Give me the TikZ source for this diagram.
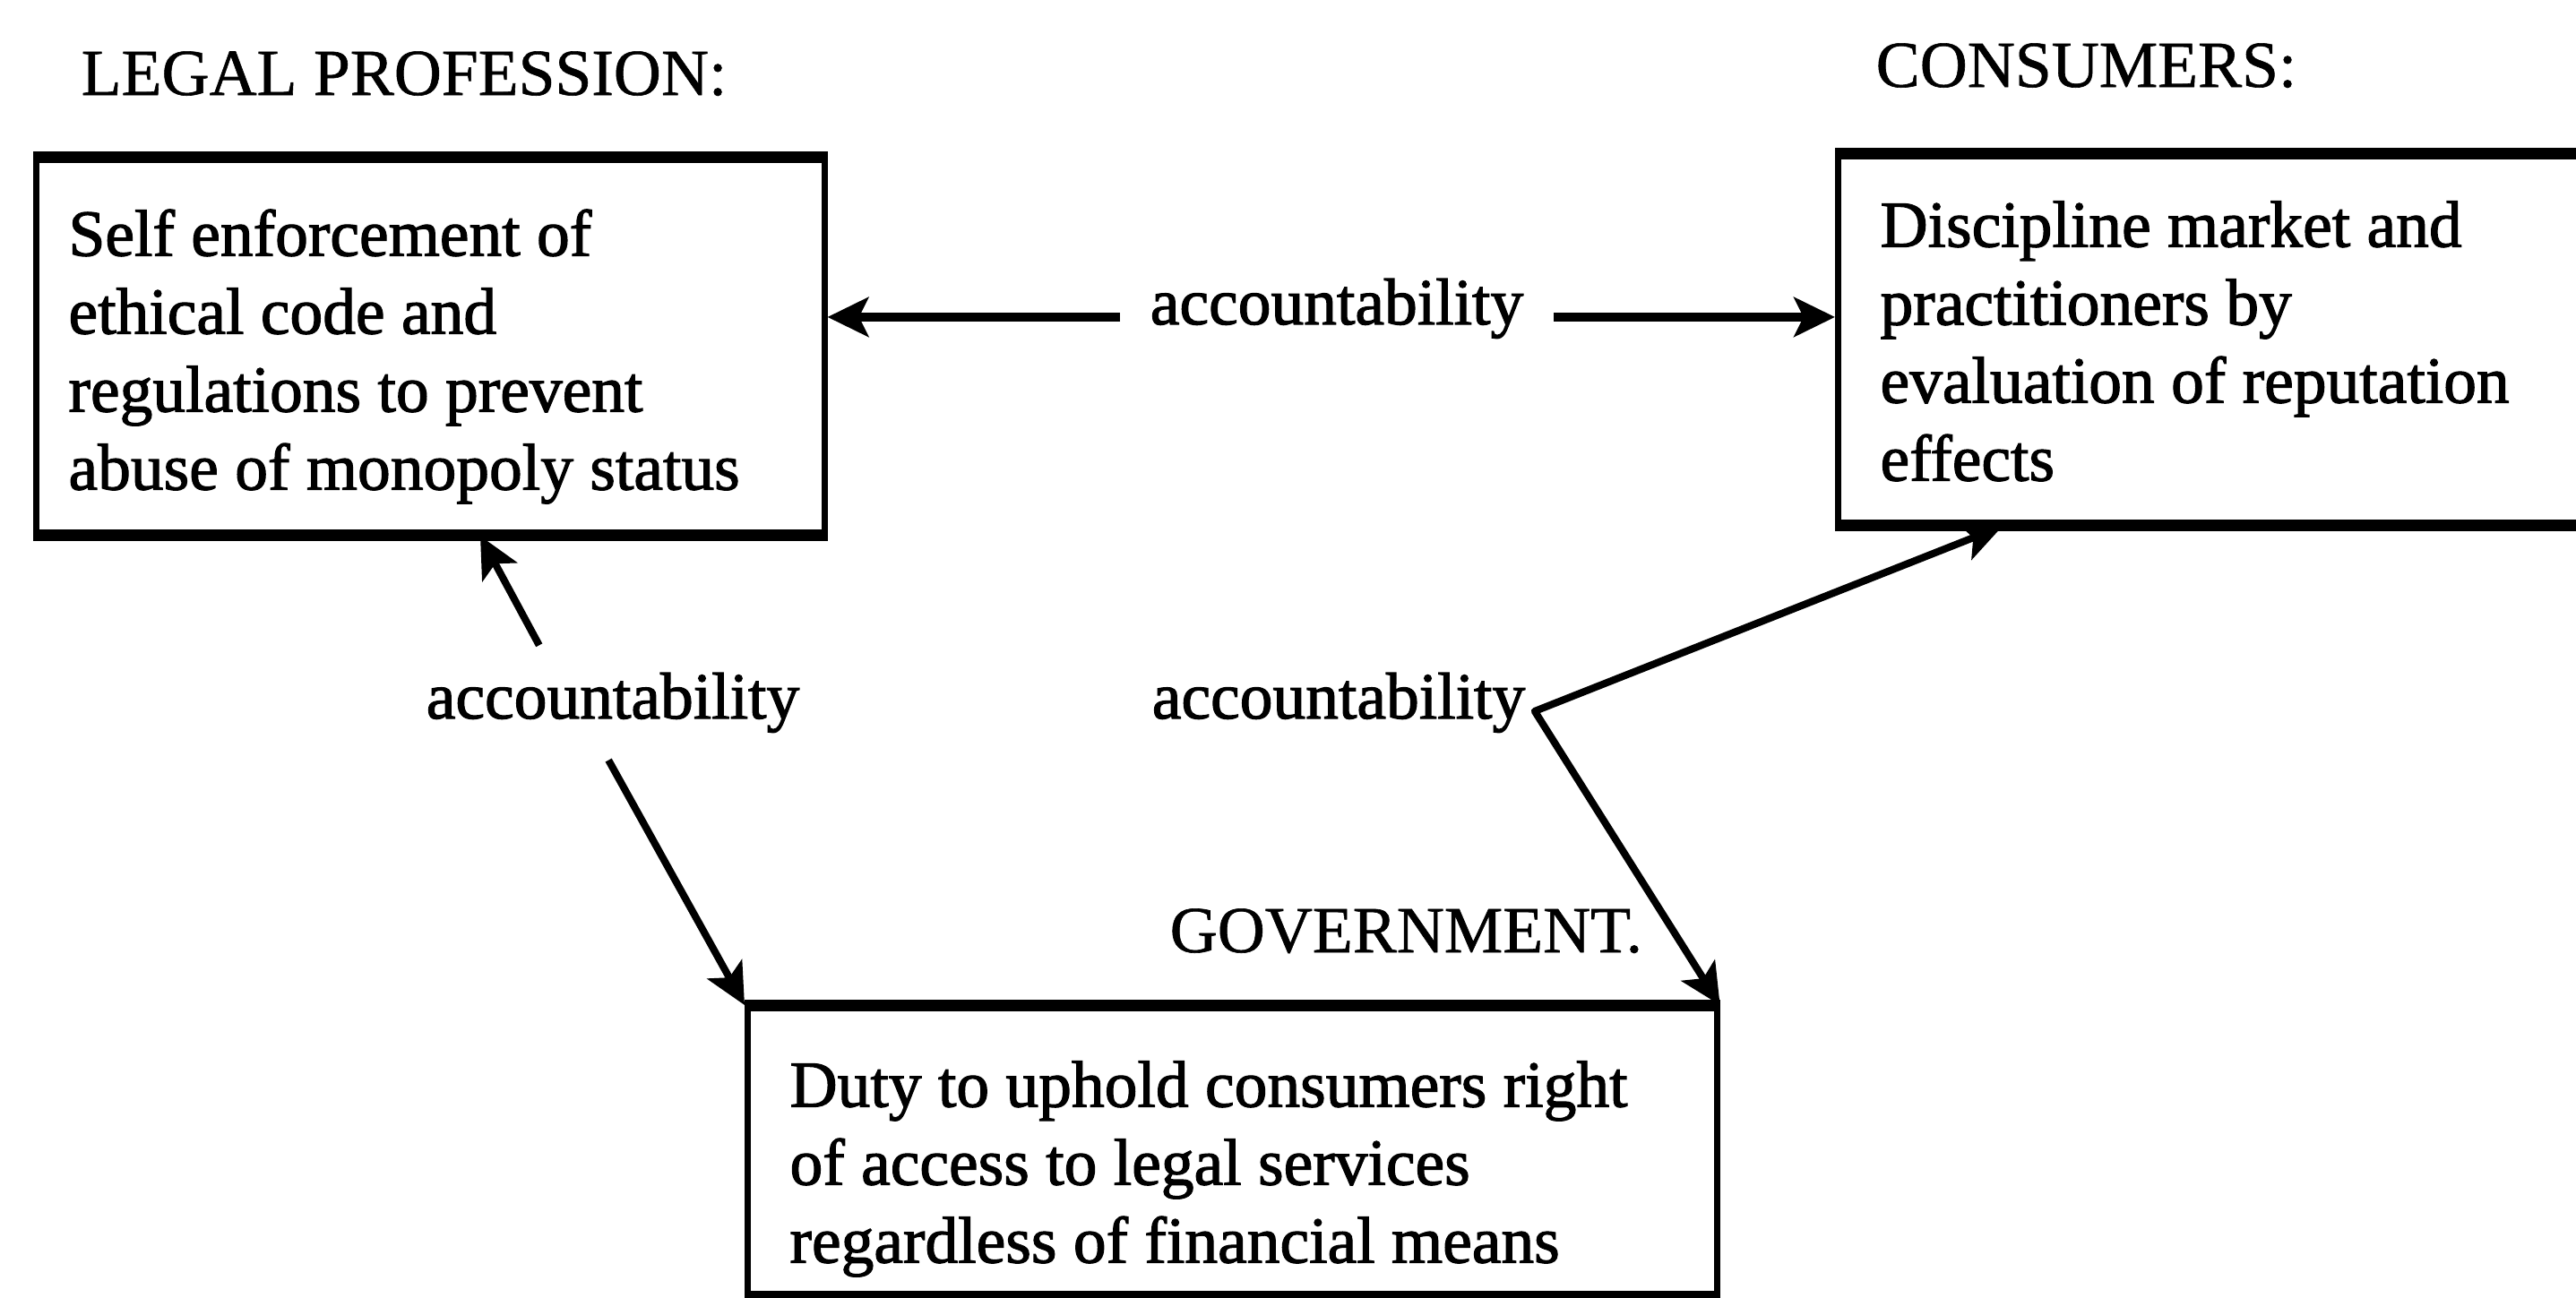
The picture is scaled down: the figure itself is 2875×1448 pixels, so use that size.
\documentclass[tikz,border=0pt]{standalone}
\usepackage{fontspec}
\setmainfont{Liberation Serif}
\newfontfamily\heavyfont{Liberation Serif}[FakeBold=1.6]
\newfontfamily\headfont{Liberation Serif}[FakeBold=0.8]
\usetikzlibrary{arrows.meta,calc}
\newcommand\dfont{\heavyfont\fontsize{20.9pt}{24.75pt}\selectfont}
\newcommand\hfont{\headfont\fontsize{20.9pt}{24.75pt}\selectfont}
\begin{document}
\begin{tikzpicture}[x=0.01cm,y=-0.01cm,
  head/.style={inner sep=0pt, anchor=base west, font=\hfont},
  acc/.style={font=\dfont, inner xsep=0.33cm, inner ysep=0.3cm, anchor=base},
  boxn/.style={draw, line width=2pt, inner sep=0pt, anchor=north west, font=\dfont},
  hline/.style={line width=3.4pt, line cap=square},
  tip/.style={-{Stealth[length=13pt,width=12.5pt,inset=3pt]}},
  arrh/.style={tip, line width=2.9pt},
  arrd/.style={tip, line width=2.3pt},
]
\useasboundingbox (0,0) rectangle (2875,1448);

% headings
\node[head] (hlp) at (90,106) {LEGAL PROFESSION:};
\node[head] (hcon) at (2093,97) {CONSUMERS:};
\node[head] (hgov) at (1305,1063) {GOVERNMENT.};

% boxes
\node[boxn, minimum width=8.79cm, minimum height=4.16cm] (b1) at (37,175)
  {\parbox[c][3.24cm][t]{8.07cm}{\raggedright\strut Self enforcement of\\ ethical code and\\ regulations to prevent\\ abuse of monopoly status}};
\node[boxn, minimum width=9.12cm, minimum height=4.09cm] (b2) at (2048,171)
  {\parbox[c][3.29cm][t]{8.18cm}{\raggedright\strut Discipline market and\\ practitioners by\\ evaluation of reputation\\ effects}};
\node[boxn, minimum width=10.81cm, minimum height=3.19cm] (b3) at (831,1122)
  {\parbox[c][2.21cm][t]{9.87cm}{\raggedright\strut Duty to uphold consumers right\\ of access to legal services\\ regardless of financial means}};

\foreach \b in {b1,b2,b3}{
  \draw[hline] (\b.north west) -- (\b.north east);
  \draw[hline] (\b.south west) -- (\b.south east);
}

% labels
\node[acc] (acc1) at (1492,362) {accountability};
\node[acc] (acc2) at (684,802) {accountability};
\node[acc, inner xsep=0.1cm] (acc3) at (1494,802) {accountability};

% connectors
\draw[arrh] (acc1.mid west) -- (acc1.mid west -| b1.east);
\draw[arrh] (acc1.mid east) -- (acc1.mid east -| b2.west);
\draw[arrd] ($(acc2.north west)!0.33!(acc2.north east)$) -- ($(b1.south west)+(499,0)$);
\draw[arrd] ($(acc2.south west)!0.49!(acc2.south east)$) -- (b3.north west);
\draw[line width=2.3pt, line join=round,
      {Stealth[length=13pt,width=12.5pt,inset=3pt]}-{Stealth[length=13pt,width=12.5pt,inset=3pt]}]
  ($(b2.south west)+(187,0)$) -- (acc3.mid east) -- (b3.north east);
\end{tikzpicture}
\end{document}
